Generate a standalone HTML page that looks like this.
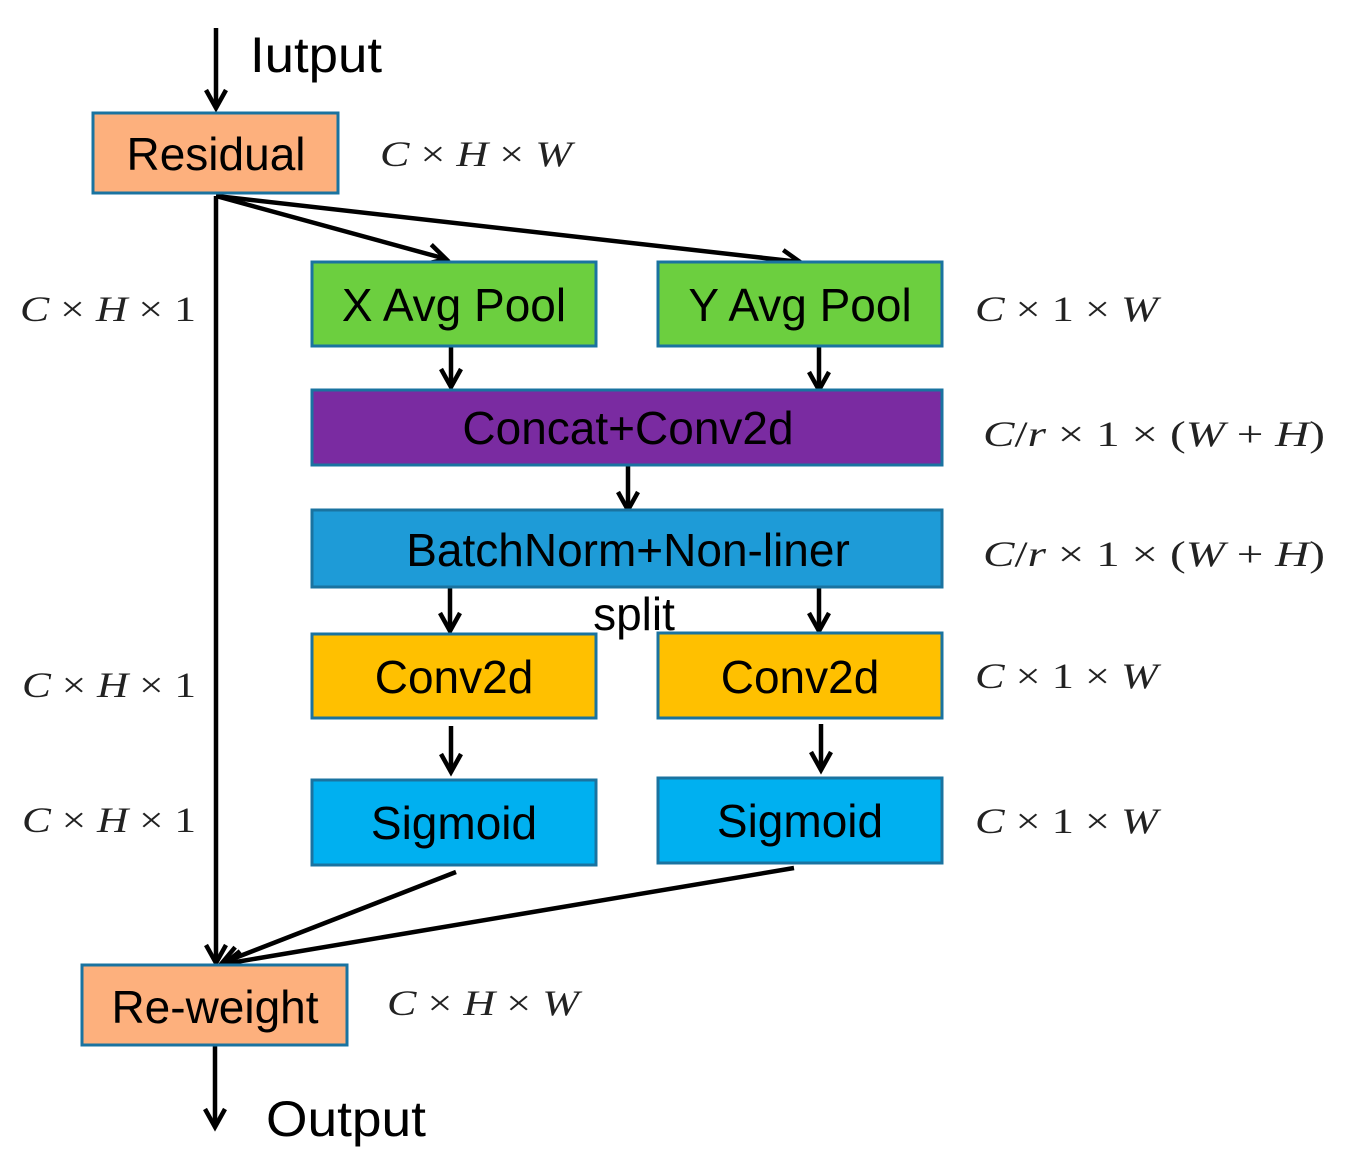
<!DOCTYPE html>
<html><head><meta charset="utf-8"><style>
html,body{margin:0;padding:0;background:#fff;}
svg{display:block}
.b{font-family:"Liberation Sans",Arial,sans-serif;font-size:46px;fill:#000;text-anchor:middle}
.m{font-family:"Liberation Serif",serif;font-size:36px;fill:#222}
.i{font-style:italic}
</style></head><body>
<svg width="1348" height="1170" viewBox="0 0 1348 1170" xmlns="http://www.w3.org/2000/svg">
<defs>
<marker id="a" markerUnits="userSpaceOnUse" markerWidth="40" markerHeight="40" refX="20" refY="20" orient="auto">
<path d="M2,10 L20,20 L2,30" fill="none" stroke="#000" stroke-width="4.5"/>
</marker>
</defs>
<g stroke="#000" stroke-width="4.5" fill="none">
<line x1="216" y1="28" x2="216" y2="108" marker-end="url(#a)"/>
<line x1="216" y1="196" x2="216" y2="963" marker-end="url(#a)"/>
<line x1="216" y1="196" x2="446" y2="259" marker-end="url(#a)"/>
<line x1="216" y1="196" x2="800" y2="262" marker-end="url(#a)"/>
<line x1="451" y1="346" x2="451" y2="387" marker-end="url(#a)"/>
<line x1="819" y1="346" x2="819" y2="390" marker-end="url(#a)"/>
<line x1="628" y1="465" x2="628" y2="510" marker-end="url(#a)"/>
<line x1="450" y1="587" x2="450" y2="631" marker-end="url(#a)"/>
<line x1="819" y1="587" x2="819" y2="631" marker-end="url(#a)"/>
<line x1="451" y1="726" x2="451" y2="772" marker-end="url(#a)"/>
<line x1="821" y1="724" x2="821" y2="770" marker-end="url(#a)"/>
<line x1="456" y1="872" x2="222" y2="963" marker-end="url(#a)"/>
<line x1="794" y1="868" x2="224" y2="964" marker-end="url(#a)"/>
<line x1="215" y1="1045" x2="215" y2="1127" marker-end="url(#a)"/>
</g>
<g stroke="#1A73A0" stroke-width="3">
<rect x="93" y="113" width="245" height="80" fill="#FDB07D"/>
<rect x="312" y="262" width="284" height="84" fill="#6CCF3F"/>
<rect x="658" y="262" width="284" height="84" fill="#6CCF3F"/>
<rect x="312" y="390" width="630" height="75" fill="#7A2BA1"/>
<rect x="312" y="510" width="630" height="77" fill="#1E9BD7"/>
<rect x="312" y="634" width="284" height="84" fill="#FFC000"/>
<rect x="658" y="633" width="284" height="85" fill="#FFC000"/>
<rect x="312" y="780" width="284" height="85" fill="#00B0F0"/>
<rect x="658" y="778" width="284" height="85" fill="#00B0F0"/>
<rect x="82" y="965" width="265" height="80" fill="#FDB07D"/>
</g>
<text class="b" x="216" y="170">Residual</text>
<text class="b" x="454" y="321">X Avg Pool</text>
<text class="b" x="800" y="321">Y Avg Pool</text>
<text class="b" x="628" y="444">Concat+Conv2d</text>
<text class="b" x="628" y="566">BatchNorm+Non-liner</text>
<text class="b" x="634" y="630">split</text>
<text class="b" x="454" y="693">Conv2d</text>
<text class="b" x="800" y="693">Conv2d</text>
<text class="b" x="454" y="839">Sigmoid</text>
<text class="b" x="800" y="837">Sigmoid</text>
<text class="b" x="215" y="1023">Re-weight</text>
<text class="b" x="316" y="72" style="font-size:50px" textLength="132" lengthAdjust="spacingAndGlyphs">Iutput</text>
<text class="b" x="346" y="1136" style="font-size:50px" textLength="160" lengthAdjust="spacingAndGlyphs">Output</text>
<g class="m">
<text x="380" y="166" textLength="192" lengthAdjust="spacingAndGlyphs"><tspan class="i">C</tspan> × <tspan class="i">H</tspan> × <tspan class="i">W</tspan></text>
<text x="20" y="321" textLength="176" lengthAdjust="spacingAndGlyphs"><tspan class="i">C</tspan> × <tspan class="i">H</tspan> × 1</text>
<text x="22" y="697" textLength="174" lengthAdjust="spacingAndGlyphs"><tspan class="i">C</tspan> × <tspan class="i">H</tspan> × 1</text>
<text x="22" y="832" textLength="174" lengthAdjust="spacingAndGlyphs"><tspan class="i">C</tspan> × <tspan class="i">H</tspan> × 1</text>
<text x="975" y="321" textLength="183" lengthAdjust="spacingAndGlyphs"><tspan class="i">C</tspan> × 1 × <tspan class="i">W</tspan></text>
<text x="975" y="688" textLength="183" lengthAdjust="spacingAndGlyphs"><tspan class="i">C</tspan> × 1 × <tspan class="i">W</tspan></text>
<text x="975" y="833" textLength="183" lengthAdjust="spacingAndGlyphs"><tspan class="i">C</tspan> × 1 × <tspan class="i">W</tspan></text>
<text x="983" y="446" textLength="342" lengthAdjust="spacingAndGlyphs"><tspan class="i">C</tspan>/<tspan class="i">r</tspan> × 1 × (<tspan class="i">W</tspan> + <tspan class="i">H</tspan>)</text>
<text x="983" y="566" textLength="342" lengthAdjust="spacingAndGlyphs"><tspan class="i">C</tspan>/<tspan class="i">r</tspan> × 1 × (<tspan class="i">W</tspan> + <tspan class="i">H</tspan>)</text>
<text x="387" y="1015" textLength="192" lengthAdjust="spacingAndGlyphs"><tspan class="i">C</tspan> × <tspan class="i">H</tspan> × <tspan class="i">W</tspan></text>
</g>
</svg>
</body></html>
